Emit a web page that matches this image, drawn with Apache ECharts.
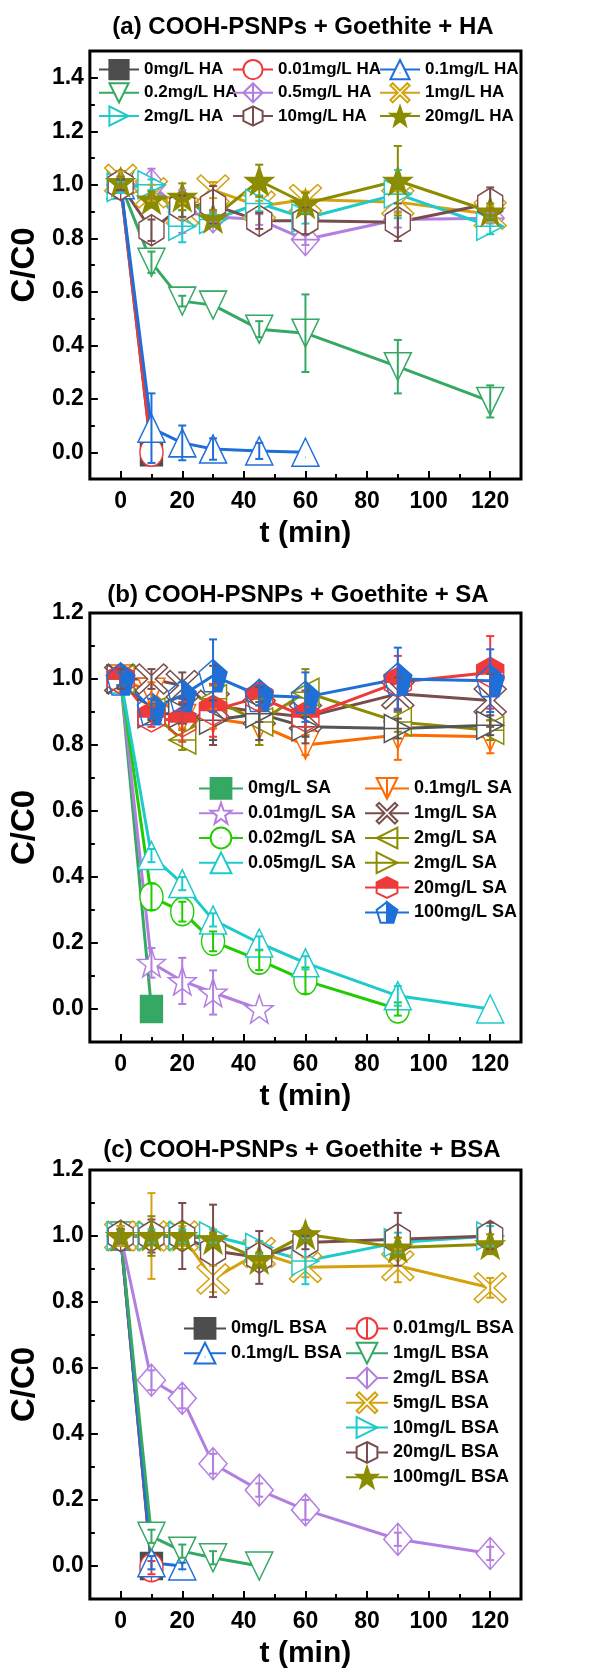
<!DOCTYPE html>
<html lang="en">
<head>
<meta charset="UTF-8">
<title>C/C0 vs t</title>
<style>
  html, body { margin: 0; padding: 0; background: #fff; }
  #main { width: 613px; height: 1675px; }
</style>
</head>
<body>
<div id="main"></div>
<script src="https://cdn.jsdelivr.net/npm/echarts@6/dist/echarts.min.js"></script>
<script>
var FONT = '"Liberation Sans", Arial, sans-serif';

// sampling times (min)
var times = [0, 10, 20, 30, 45, 60, 90, 120];
var xMajor = [0, 20, 40, 60, 80, 100, 120];
var xMinor = [10, 30, 50, 70, 90, 110];
var yMajorA = [0, 0.2, 0.4, 0.6, 0.8, 1.0, 1.2, 1.4];
var yMinorA = [0.1, 0.3, 0.5, 0.7, 0.9, 1.1, 1.3];
var yMajorBC = [0, 0.2, 0.4, 0.6, 0.8, 1.0, 1.2];
var yMinorBC = [0.1, 0.3, 0.5, 0.7, 0.9, 1.1];

// (a) HA
var ha0 = [1.0, 0.0],                                         ha0Err = [0.02, 0];
var ha001 = [1.0, 0.0],                                       ha001Err = [0.02, 0];
var ha01 = [1.0, 0.09, 0.035, 0.012, 0.005, 0.0],             ha01Err = [0.03, 0.13, 0.065, 0.04, 0.03, 0];
var ha02 = [1.0, 0.71, 0.565, 0.55, 0.46, 0.445, 0.32, 0.19], ha02Err = [0.02, 0.04, 0.02, 0, 0.03, 0.145, 0.1, 0.06];
var ha05 = [1.0, 1.0, 0.9, 0.88, 0.87, 0.795, 0.87, 0.875],   ha05Err = [0.03, 0.06, 0.08, 0.02, 0.02, 0.02, 0.03, 0.02];
var ha1 = [1.02, 0.97, 0.9, 0.98, 0.92, 0.945, 0.935, 0.89],  ha1Err = [0.03, 0.03, 0.03, 0.03, 0.02, 0.03, 0.04, 0.03];
var ha2 = [0.99, 1.0, 0.845, 0.87, 0.93, 0.875, 0.965, 0.845], ha2Err = [0.02, 0.02, 0.06, 0.02, 0.03, 0.02, 0.09, 0.03];
var ha10 = [1.0, 0.83, 0.92, 0.925, 0.865, 0.865, 0.86, 0.93], ha10Err = [0.02, 0.04, 0.04, 0.07, 0.03, 0.05, 0.07, 0.06];
var ha20 = [1.01, 0.945, 0.955, 0.875, 1.015, 0.93, 1.015, 0.9], ha20Err = [0.02, 0.03, 0.05, 0.03, 0.06, 0.04, 0.13, 0.03];

// (b) SA
var sa0 = [1.0, 0.0],                                          sa0Err = [0, 0];
var sa001 = [1.0, 0.14, 0.085, 0.05, 0.0],                     sa001Err = [0.02, 0.045, 0.07, 0.067, 0];
var sa002 = [1.0, 0.34, 0.295, 0.205, 0.148, 0.086, 0.0],      sa002Err = [0.02, 0.04, 0.03, 0.03, 0.03, 0.04, 0.02];
var sa005 = [1.0, 0.465, 0.38, 0.27, 0.2, 0.14, 0.04, 0.0],    sa005Err = [0.02, 0.02, 0.02, 0.02, 0.02, 0.02, 0.03, 0];
var sa01 = [1.0, 0.96, 0.88, 0.88, 0.86, 0.8, 0.83, 0.825],    sa01Err = [0.02, 0.03, 0.03, 0.03, 0.06, 0.03, 0.075, 0.05];
var sa1 = [1.0, 1.0, 0.98, 0.92, 0.9, 0.885, 0.955, 0.935],    sa1Err = [0.03, 0.03, 0.04, 0.12, 0.03, 0.08, 0.05, 0.08];
var sa2 = [1.0, 0.9, 0.815, 0.94, 0.87, 0.96, 0.87, 0.845],    sa2Err = [0.02, 0.02, 0.03, 0.04, 0.07, 0.07, 0.03, 0.03];
var sa2b = [1.0, 0.895, 0.895, 0.875, 0.895, 0.855, 0.85, 0.86], sa2bErr = [0.02, 0.02, 0.03, 0.06, 0.08, 0.03, 0.03, 0.03];
var sa20 = [1.0, 0.885, 0.87, 0.905, 0.945, 0.885, 0.99, 1.02], sa20Err = [0.02, 0.03, 0.06, 0.08, 0.04, 0.03, 0.08, 0.11];
var sa100 = [1.0, 0.91, 0.95, 1.01, 0.95, 0.945, 1.0, 0.995], sa100Err = [0.02, 0.03, 0.04, 0.11, 0.03, 0.075, 0.095, 0.095];

// (c) BSA
var bsa0 = [1.0, 0.0],                                          bsa0Err = [0, 0];
var bsa001 = [1.0, -0.005],                                     bsa001Err = [0.02, 0.02];
var bsa01 = [1.0, 0.01, 0.0],                                   bsa01Err = [0.03, 0.02, 0.01];
var bsa1 = [1.0, 0.09, 0.045, 0.025, 0.0],                      bsa1Err = [0.02, 0.02, 0.02, 0.02, 0];
var bsa2 = [1.0, 0.563, 0.508, 0.31, 0.23, 0.17, 0.081, 0.038], bsa2Err = [0.02, 0.03, 0.03, 0.03, 0.02, 0.03, 0.02, 0.02];
var bsa5 = [1.0, 1.0, 1.0, 0.87, 0.95, 0.905, 0.91, 0.843],     bsa5Err = [0.03, 0.13, 0.03, 0.04, 0.03, 0.03, 0.05, 0.03];
var bsa10 = [1.0, 1.0, 1.0, 1.0, 0.965, 0.924, 0.98, 1.0],      bsa10Err = [0.02, 0.02, 0.02, 0.02, 0.02, 0.07, 0.03, 0.03];
var bsa20 = [1.0, 1.0, 1.0, 0.955, 0.935, 0.98, 0.99, 1.0],     bsa20Err = [0.02, 0.05, 0.1, 0.14, 0.08, 0.02, 0.08, 0.04];
var bsa100 = [1.0, 1.0, 1.0, 0.99, 0.93, 1.005, 0.965, 0.975],  bsa100Err = [0.02, 0.06, 0.04, 0.02, 0.02, 0.02, 0.03, 0.03];

// colours
var GRAY = '#4d4d4d', RED = '#ee3a3a', BLUE = '#1f6fd8', GREEN = '#35a863', PURPLE = '#b27fe0',
    GOLD = '#d4a20f', CYAN = '#1fcacb', BROWN = '#7a4d4d', OLIVE = '#8c8c00', ORANGE = '#ff6a00',
    LIME = '#22cc00', DGRAY = '#555555';

// Origin-like marker shapes
var circ = 'path://M50 0A50 50 0 1 1 50 100A50 50 0 1 1 50 0Z';
var SYM = {
  square: 'rect',
  circle: circ,
  circleDot: circ + ' M49 50L51 50',
  circleBar: circ + ' M50 0L50 100',
  triUp: 'path://M50 0L100 100L0 100Z',
  triUpDot: 'path://M50 0L100 100L0 100Z M49 68L51 68',
  triDown: 'path://M0 0L100 0L50 100Z',
  triDownBar: 'path://M0 0L100 0L50 100Z M50 0L50 100',
  triRight: 'path://M0 0L100 50L0 100Z M0 50L100 50',
  triLeft: 'path://M100 0L0 50L100 100Z M0 50L100 50',
  diamondPlus: 'path://M50 0L100 50L50 100L0 50Z M50 0L50 100 M0 50L100 50',
  diamondBar: 'path://M50 0L100 50L50 100L0 50Z M50 0L50 100',
  cross: 'path://M0 12L12 0L50 38L88 0L100 12L62 50L100 88L88 100L50 62L12 100L0 88L38 50Z',
  hexBar: 'path://M50 0L93 25L93 75L50 100L7 75L7 25Z M50 0L50 100',
  hexTop: 'path://M7 50L7 25L50 0L93 25L93 50Z M7 50L7 75L50 100L93 75L93 50L93 75L50 100L7 75L7 50',
  star: 'path://M50 0L61.76 33.82L97.55 34.55L69.02 56.18L79.39 90.45L50 70L20.61 90.45L30.98 56.18L2.45 34.55L38.24 33.82Z',
  pentHalf: 'path://M50 0L97.55 34.55L79.39 90.45L50 90.45Z M50 0L2.45 34.55L20.61 90.45L50 90.45L20.61 90.45L2.45 34.55L50 0 M50 0L50 90.45'
};

var panels = [
  [
    { name: '0mg/L HA', v: ha0, e: ha0Err, c: GRAY, s: SYM.square, size: [22, 27], fill: true },
    { name: '0.01mg/L HA', v: ha001, e: ha001Err, c: RED, s: SYM.circle, size: [23, 28] },
    { name: '0.1mg/L HA', v: ha01, e: ha01Err, c: BLUE, s: SYM.triUpDot, size: [27, 28] },
    { name: '0.2mg/L HA', v: ha02, e: ha02Err, c: GREEN, s: SYM.triDown, size: [27, 28] },
    { name: '0.5mg/L HA', v: ha05, e: ha05Err, c: PURPLE, s: SYM.diamondPlus, size: [28, 32] },
    { name: '1mg/L HA', v: ha1, e: ha1Err, c: GOLD, s: SYM.cross, size: [32, 30] },
    { name: '2mg/L HA', v: ha2, e: ha2Err, c: CYAN, s: SYM.triRight, size: [27, 28] },
    { name: '10mg/L HA', v: ha10, e: ha10Err, c: BROWN, s: SYM.hexBar, size: [25, 31] },
    { name: '20mg/L HA', v: ha20, e: ha20Err, c: OLIVE, s: SYM.star, size: [28, 28], fill: true }
  ],
  [
    { name: '0mg/L SA', v: sa0, e: sa0Err, c: GREEN, s: SYM.square, size: [22, 27], fill: true },
    { name: '0.01mg/L SA', v: sa001, e: sa001Err, c: PURPLE, s: SYM.star, size: [28, 28] },
    { name: '0.02mg/L SA', v: sa002, e: sa002Err, c: LIME, s: SYM.circleDot, size: [23, 28] },
    { name: '0.05mg/L SA', v: sa005, e: sa005Err, c: CYAN, s: SYM.triUp, size: [27, 28] },
    { name: '0.1mg/L SA', v: sa01, e: sa01Err, c: ORANGE, s: SYM.triDownBar, size: [27, 28] },
    { name: '1mg/L SA', v: sa1, e: sa1Err, c: BROWN, s: SYM.cross, size: [32, 30] },
    { name: '2mg/L SA', v: sa2, e: sa2Err, c: OLIVE, s: SYM.triLeft, size: [27, 28] },
    { name: '2mg/L SA ', v: sa2b, e: sa2bErr, c: DGRAY, s: SYM.triRight, size: [27, 28] },
    { name: '20mg/L SA', v: sa20, e: sa20Err, c: RED, s: SYM.hexTop, size: [27, 30], fill: true },
    { name: '100mg/L SA', v: sa100, e: sa100Err, c: BLUE, s: SYM.pentHalf, size: [28, 32], fill: true }
  ],
  [
    { name: '0mg/L BSA', v: bsa0, e: bsa0Err, c: GRAY, s: SYM.square, size: [22, 27], fill: true },
    { name: '0.01mg/L BSA', v: bsa001, e: bsa001Err, c: RED, s: SYM.circleBar, size: [23, 28] },
    { name: '0.1mg/L BSA', v: bsa01, e: bsa01Err, c: BLUE, s: SYM.triUpDot, size: [27, 28] },
    { name: '1mg/L BSA', v: bsa1, e: bsa1Err, c: GREEN, s: SYM.triDown, size: [27, 28] },
    { name: '2mg/L BSA', v: bsa2, e: bsa2Err, c: PURPLE, s: SYM.diamondBar, size: [28, 32] },
    { name: '5mg/L BSA', v: bsa5, e: bsa5Err, c: GOLD, s: SYM.cross, size: [32, 30] },
    { name: '10mg/L BSA', v: bsa10, e: bsa10Err, c: CYAN, s: SYM.triRight, size: [27, 28] },
    { name: '20mg/L BSA', v: bsa20, e: bsa20Err, c: BROWN, s: SYM.hexBar, size: [25, 31] },
    { name: '100mg/L BSA', v: bsa100, e: bsa100Err, c: OLIVE, s: SYM.star, size: [28, 28], fill: true }
  ]
];

var gridTops = [51, 613, 1170];
var gridHeights = [428, 429, 429];
var yMax = [1.5, 1.2, 1.2];
var yMajors = [yMajorA, yMajorBC, yMajorBC];
var yMinors = [yMinorA, yMinorBC, yMinorBC];
var titles = ['(a) COOH-PSNPs + Goethite + HA', '(b) COOH-PSNPs + Goethite + SA', '(c) COOH-PSNPs + Goethite + BSA'];
var titleY = [27, 595, 1150];
var titleX = [303, 298, 302];

var boldText = function (size) {
  return { color: '#000', fontSize: size, fontWeight: 'bold', fontFamily: FONT };
};

var grids = [], xAxes = [], yAxes = [], series = [], graphics = [];

panels.forEach(function (panel, p) {
  grids.push({ left: 88, width: 433, top: gridTops[p], height: gridHeights[p],
    show: true, borderColor: '#000', borderWidth: 3, backgroundColor: 'transparent' });

  xAxes.push({
    type: 'value', gridIndex: p, min: -10, max: 130, position: 'bottom',
    axisLine: { show: false, onZero: false }, splitLine: { show: false },
    axisTick: { inside: true, length: 8, lineStyle: { color: '#000', width: 2 }, customValues: xMajor },
    axisLabel: Object.assign({ customValues: xMajor, margin: 11 }, boldText(23)),
    name: 't (min)', nameLocation: 'middle', nameGap: 40, nameTextStyle: boldText(30)
  });
  xAxes.push({
    type: 'value', gridIndex: p, min: -10, max: 130, position: 'bottom',
    axisLine: { show: false, onZero: false }, splitLine: { show: false },
    axisTick: { inside: true, length: 5, lineStyle: { color: '#000', width: 2 }, customValues: xMinor },
    axisLabel: { show: false }
  });
  yAxes.push({
    type: 'value', gridIndex: p, min: -0.1, max: yMax[p], position: 'left',
    axisLine: { show: false, onZero: false }, splitLine: { show: false },
    axisTick: { inside: true, length: 8, lineStyle: { color: '#000', width: 2 }, customValues: yMajors[p] },
    axisLabel: Object.assign({ customValues: yMajors[p], margin: 6,
      formatter: function (v) { return (+v).toFixed(1); } }, boldText(23)),
    name: 'C/C0', nameLocation: 'middle', nameGap: 47, nameTextStyle: boldText(33)
  });
  yAxes.push({
    type: 'value', gridIndex: p, min: -0.1, max: yMax[p], position: 'left',
    axisLine: { show: false, onZero: false }, splitLine: { show: false },
    axisTick: { inside: true, length: 5, lineStyle: { color: '#000', width: 2 }, customValues: yMinors[p] },
    axisLabel: { show: false }
  });

  var errData = [];
  var colors = [];
  panel.forEach(function (d, k) {
    colors.push(d.c);
    series.push({
      type: 'line', name: d.name, xAxisIndex: 2 * p, yAxisIndex: 2 * p,
      data: d.v.map(function (y, i) { return [times[i], y]; }),
      symbol: d.s, symbolSize: d.size,
      lineStyle: { color: d.c, width: 3 },
      itemStyle: { color: d.fill ? d.c : '#fff', borderColor: d.c, borderWidth: 1.5 },
      emphasis: { disabled: true }, z: 2
    });
    d.v.forEach(function (y, i) {
      if (d.e[i] > 0) errData.push([times[i], y, d.e[i], k]);
    });
  });

  series.push({
    type: 'custom', xAxisIndex: 2 * p, yAxisIndex: 2 * p, z: 4, silent: true,
    encode: { x: 0, y: 1 },
    data: errData,
    renderItem: function (params, api) {
      var x = api.value(0), y = api.value(1), e = api.value(2);
      var c = colors[api.value(3)];
      var top = api.coord([x, y + e]), bot = api.coord([x, y - e]);
      var st = { stroke: c, lineWidth: 2 };
      return { type: 'group', children: [
        { type: 'line', shape: { x1: top[0], y1: top[1], x2: bot[0], y2: bot[1] }, style: st },
        { type: 'line', shape: { x1: top[0] - 4, y1: top[1], x2: top[0] + 4, y2: top[1] }, style: st },
        { type: 'line', shape: { x1: bot[0] - 4, y1: bot[1], x2: bot[0] + 4, y2: bot[1] }, style: st }
      ] };
    }
  });

  graphics.push({
    type: 'text', x: titleX[p], y: titleY[p],
    style: { text: titles[p], fill: '#000', align: 'center', verticalAlign: 'middle',
      font: 'bold 24px ' + FONT }
  });
});

function legendCol(names, left, top, w, h, gap, fs) {
  return { orient: 'vertical', left: left, top: top, padding: 0, itemWidth: w, itemHeight: h,
    itemGap: gap, selectedMode: false, data: names, textStyle: boldText(fs) };
}

var legends = [
  legendCol(['0mg/L HA', '0.2mg/L HA', '2mg/L HA'], 98, 59, 40, 24, 2, 17),
  legendCol(['0.01mg/L HA', '0.5mg/L HA', '10mg/L HA'], 232, 59, 40, 24, 2, 17),
  legendCol(['0.1mg/L HA', '1mg/L HA', '20mg/L HA'], 379, 59, 40, 24, 2, 17),
  legendCol(['0mg/L SA', '0.01mg/L SA', '0.02mg/L SA', '0.05mg/L SA'], 198, 777, 44, 26, 2, 18),
  legendCol(['0.1mg/L SA', '1mg/L SA', '2mg/L SA',
    { name: '2mg/L SA ', itemStyle: { borderColor: OLIVE }, lineStyle: { color: OLIVE } },
    '20mg/L SA', '100mg/L SA'], 364, 777, 44, 26, 2, 18),
  legendCol(['0mg/L BSA', '0.1mg/L BSA'], 183, 1317, 42, 26, 2, 18),
  legendCol(['0.01mg/L BSA', '1mg/L BSA', '2mg/L BSA', '5mg/L BSA', '10mg/L BSA', '20mg/L BSA', '100mg/L BSA'],
    345, 1317, 42, 26, 2, 18)
];

var chart = echarts.init(document.getElementById('main'));
chart.setOption({
  backgroundColor: '#fff',
  animation: false,
  grid: grids,
  xAxis: xAxes,
  yAxis: yAxes,
  legend: legends,
  series: series,
  graphic: graphics
});
</script>
</body>
</html>
